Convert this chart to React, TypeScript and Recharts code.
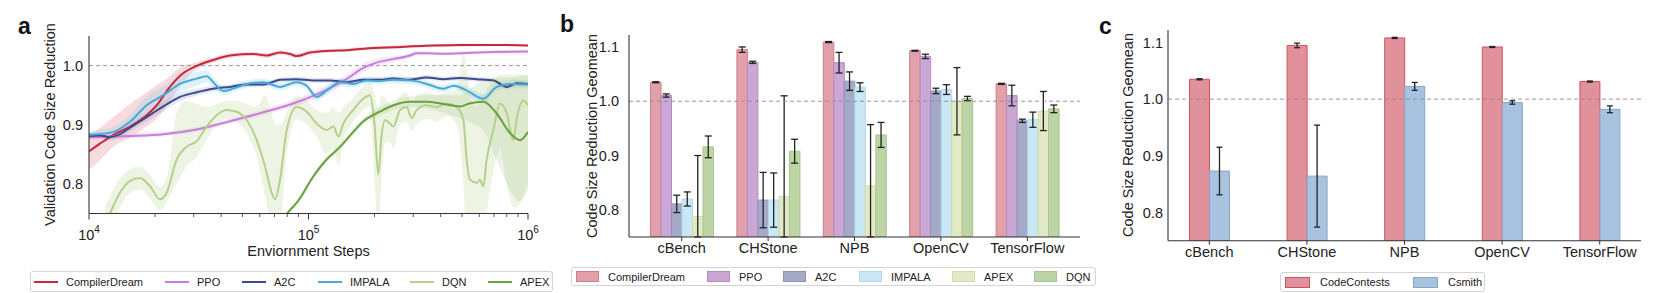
import React from 'react';
import {
  ComposedChart, BarChart, Bar, Line, Area, XAxis, YAxis, ReferenceLine, ErrorBar, Legend, Label,
} from 'recharts';

const FONT = '"Liberation Sans", Arial, Helvetica, sans-serif';

// ---------------- Panel a data ----------------
const aTicks = [10000, 20000, 30000, 40000, 50000, 60000, 70000, 80000, 90000, 100000, 200000, 300000, 400000, 500000, 600000, 700000, 800000, 900000, 1000000];
const aYTicks = [0.8, 0.9, 1.0];

const cdSteps = [10000, 11220, 12910, 15380, 18310, 20350, 23370, 25980, 29870, 36800, 43900, 56000, 64500, 74200, 82400, 88300, 101600, 125300, 149000, 171700, 211000, 243500, 345400, 490000, 695000, 1000000];
const cdMean = [0.855, 0.868, 0.883, 0.897, 0.916, 0.933, 0.964, 0.983, 0.997, 1.0095, 1.017, 1.0195, 1.017, 1.022, 1.0195, 1.016, 1.022, 1.025, 1.026, 1.028, 1.030, 1.031, 1.0335, 1.0346, 1.035, 1.034];
const cdLow = [0.824, 0.84, 0.863, 0.878, 0.897, 0.91, 0.94, 0.965, 0.99, 1.005, 1.013, 1.016, 1.013, 1.018, 1.016, 1.012, 1.018, 1.022, 1.023, 1.025, 1.027, 1.028, 1.031, 1.032, 1.033, 1.032];
const cdHigh = [0.883, 0.895, 0.913, 0.935, 0.955, 0.967, 0.982, 0.997, 1.004, 1.014, 1.021, 1.023, 1.021, 1.026, 1.023, 1.02, 1.026, 1.028, 1.029, 1.031, 1.033, 1.034, 1.036, 1.037, 1.037, 1.036];

const ppoSteps = [10000, 15380, 21810, 30940, 43900, 62300, 88300, 125300, 150000, 177700, 204000, 243500, 290000, 311000, 345400, 411000, 490000, 695000, 1000000];
const ppoMean = [0.879, 0.881, 0.884, 0.892, 0.906, 0.921, 0.938, 0.962, 0.978, 0.996, 1.005, 1.011, 1.017, 1.021, 1.021, 1.020, 1.021, 1.023, 1.024];
const ppoLow = [0.875, 0.877, 0.88, 0.888, 0.902, 0.916, 0.932, 0.955, 0.971, 0.989, 0.999, 1.006, 1.013, 1.017, 1.018, 1.017, 1.018, 1.02, 1.021];
const ppoHigh = [0.883, 0.885, 0.888, 0.896, 0.91, 0.926, 0.944, 0.969, 0.985, 1.003, 1.011, 1.016, 1.021, 1.025, 1.024, 1.023, 1.024, 1.026, 1.027];

const a2cSteps = [10000, 11220, 12460, 13840, 15380, 18310, 21810, 25980, 30940, 36800, 43900, 52300, 62300, 74200, 88300, 105300, 125300, 149000, 177700, 211000, 243500, 290000, 345400, 411000, 490000, 584000, 695000, 800000, 888000, 1000000];
const a2cMean = [0.881, 0.882, 0.879, 0.884, 0.895, 0.913, 0.931, 0.947, 0.955, 0.961, 0.964, 0.968, 0.968, 0.976, 0.977, 0.975, 0.975, 0.972, 0.976, 0.976, 0.978, 0.976, 0.980, 0.977, 0.979, 0.977, 0.975, 0.964, 0.970, 0.969];
const a2cLow = [0.876, 0.877, 0.874, 0.878, 0.888, 0.905, 0.923, 0.94, 0.949, 0.956, 0.96, 0.964, 0.964, 0.972, 0.973, 0.971, 0.971, 0.968, 0.972, 0.972, 0.974, 0.972, 0.976, 0.973, 0.975, 0.973, 0.971, 0.959, 0.965, 0.964];
const a2cHigh = [0.886, 0.887, 0.884, 0.89, 0.902, 0.921, 0.939, 0.954, 0.961, 0.966, 0.968, 0.972, 0.972, 0.98, 0.981, 0.979, 0.979, 0.976, 0.98, 0.98, 0.982, 0.98, 0.984, 0.981, 0.983, 0.981, 0.979, 0.969, 0.975, 0.974];

const impSteps = [10000, 12910, 15380, 18310, 21810, 25980, 30940, 34370, 36800, 40900, 45400, 52300, 62300, 74200, 88300, 98100, 108900, 121000, 139500, 160000, 184000, 211000, 243500, 290000, 345400, 411000, 460000, 525000, 626000, 720000, 828000, 1000000];
const impMean = [0.883, 0.888, 0.905, 0.933, 0.95, 0.969, 0.978, 0.982, 0.972, 0.957, 0.961, 0.969, 0.972, 0.964, 0.972, 0.966, 0.947, 0.958, 0.972, 0.969, 0.975, 0.974, 0.976, 0.975, 0.969, 0.961, 0.966, 0.958, 0.944, 0.964, 0.969, 0.968];
const impLow = [0.877, 0.88, 0.893, 0.918, 0.935, 0.955, 0.966, 0.972, 0.963, 0.95, 0.955, 0.963, 0.966, 0.958, 0.966, 0.96, 0.94, 0.951, 0.966, 0.963, 0.969, 0.968, 0.97, 0.969, 0.963, 0.955, 0.96, 0.951, 0.936, 0.957, 0.962, 0.961];
const impHigh = [0.889, 0.896, 0.917, 0.948, 0.965, 0.983, 0.99, 0.992, 0.981, 0.964, 0.967, 0.975, 0.978, 0.97, 0.978, 0.972, 0.954, 0.965, 0.978, 0.975, 0.981, 0.98, 0.982, 0.981, 0.975, 0.967, 0.972, 0.965, 0.952, 0.971, 0.976, 0.975];

const dqnSteps = [11800, 12460, 13840, 15380, 17080, 18960, 21060, 22590, 25080, 27860, 30940, 34370, 38160, 42390, 47080, 52280, 58060, 63370, 67950, 70370, 74160, 79560, 88350, 98090, 108940, 121000, 129800, 136800, 144100, 160000, 177700, 190600, 200000, 208000, 215000, 223200, 235100, 243500, 261200, 280100, 295100, 311000, 345400, 383700, 426100, 473200, 507500, 525500, 544200, 583600, 604300, 625800, 648100, 695200, 745600, 799700, 857700, 888100, 952200, 1000000];
const dqnMean = [0.73, 0.75, 0.785, 0.805, 0.81, 0.796, 0.774, 0.785, 0.841, 0.863, 0.872, 0.897, 0.916, 0.925, 0.922, 0.908, 0.874, 0.83, 0.785, 0.774, 0.807, 0.891, 0.93, 0.922, 0.902, 0.891, 0.897, 0.88, 0.902, 0.925, 0.944, 0.95, 0.9, 0.816, 0.88, 0.908, 0.902, 0.897, 0.925, 0.93, 0.911, 0.925, 0.933, 0.93, 0.936, 0.93, 0.908, 0.841, 0.807, 0.802, 0.807, 0.796, 0.841, 0.891, 0.936, 0.92, 0.874, 0.91, 0.941, 0.933];
const dqnLow = [0.70, 0.72, 0.76, 0.785, 0.79, 0.775, 0.755, 0.77, 0.80, 0.83, 0.845, 0.875, 0.90, 0.91, 0.905, 0.885, 0.845, 0.78, 0.72, 0.70, 0.72, 0.85, 0.91, 0.90, 0.88, 0.85, 0.86, 0.83, 0.87, 0.905, 0.925, 0.93, 0.80, 0.72, 0.80, 0.87, 0.87, 0.86, 0.90, 0.905, 0.89, 0.90, 0.91, 0.905, 0.915, 0.90, 0.80, 0.70, 0.70, 0.70, 0.70, 0.70, 0.75, 0.82, 0.86, 0.80, 0.76, 0.76, 0.78, 0.80];
const dqnHigh = [0.76, 0.78, 0.81, 0.825, 0.83, 0.815, 0.795, 0.81, 0.92, 0.94, 0.935, 0.93, 0.935, 0.94, 0.94, 0.935, 0.93, 0.95, 0.92, 0.90, 0.90, 0.92, 0.95, 0.94, 0.925, 0.92, 0.93, 0.92, 0.93, 0.945, 0.965, 0.97, 0.95, 0.93, 0.95, 0.945, 0.935, 0.93, 0.95, 0.955, 0.935, 0.95, 0.955, 0.95, 0.955, 0.96, 1.02, 1.0, 0.95, 0.93, 0.95, 0.95, 0.96, 0.975, 0.985, 0.985, 0.985, 0.985, 0.985, 0.98];

const apexSteps = [75000, 80000, 90000, 105300, 120000, 139500, 160000, 178000, 211000, 243500, 290000, 345400, 411000, 490000, 540000, 626000, 720000, 828000, 920000, 1000000];
const apexMean = [0.735, 0.75, 0.772, 0.813, 0.84, 0.863, 0.888, 0.906, 0.922, 0.933, 0.939, 0.939, 0.935, 0.931, 0.936, 0.939, 0.919, 0.886, 0.874, 0.888];
const apexLow = [0.73, 0.745, 0.767, 0.808, 0.835, 0.858, 0.882, 0.9, 0.915, 0.925, 0.93, 0.928, 0.92, 0.912, 0.905, 0.89, 0.84, 0.79, 0.77, 0.79];
const apexHigh = [0.74, 0.755, 0.777, 0.818, 0.845, 0.868, 0.894, 0.912, 0.929, 0.941, 0.948, 0.95, 0.95, 0.95, 0.96, 0.975, 0.98, 0.98, 0.982, 0.985];

// ---------------- Panel b data ----------------
const benchmarks = ['cBench', 'CHStone', 'NPB', 'OpenCV', 'TensorFlow'];
const bYTicks = [0.8, 0.9, 1.0, 1.1];
const cdBar = [1.035, 1.095, 1.109, 1.093, 1.032];
const cdBarErr = [0.001, 0.005, 0.001, 0.0008, 0.001];
const ppoBar = [1.0105, 1.0716, 1.071, 1.0826, 1.0105];
const ppoBarErr = [0.003, 0.002, 0.019, 0.004, 0.019];
const a2cBar = [0.811, 0.818, 1.037, 1.019, 0.964];
const a2cBarErr = [0.016, 0.051, 0.017, 0.005, 0.003];
const impBar = [0.820, 0.818, 1.026, 1.0215, 0.966];
const impBarErr = [0.013, 0.05, 0.008, 0.009, 0.014];
const apexBar = [0.788, 0.825, 0.844, 1.000, 0.982];
const apexBarErr = [0.112, 0.185, 0.113, 0.062, 0.036];
const dqnBar = [0.916, 0.908, 0.938, 1.005, 0.986];
const dqnBarErr = [0.02, 0.022, 0.023, 0.004, 0.007];

// ---------------- Panel c data ----------------
const ccBar = [1.035, 1.0947, 1.108, 1.092, 1.031];
const ccBarErr = [0.001, 0.004, 0.001, 0.0008, 0.001];
const csBar = [0.873, 0.864, 1.0224, 0.994, 0.982];
const csBarErr = [0.042, 0.09, 0.007, 0.003, 0.006];

const Y_MIN = 0.75;

// ---------------- builders ----------------
const mk = (steps: number[], mean: number[], low: number[], high: number[]) =>
  steps.map((s, i) => ({ step: s, v: mean[i], band: [low[i], high[i]] }));

// error bar clipped at the bottom of the axis, as in the reference
const clipErr = (mean: number, err: number) => [Math.min(err, mean - Y_MIN), err];

const lineSeries = [
  { name: 'CompilerDream', color: '#c8283c', band: '#d84a5c', op: 0.2, data: mk(cdSteps, cdMean, cdLow, cdHigh) },
  { name: 'PPO', color: '#c77fdc', band: '#c77fdc', op: 0.18, data: mk(ppoSteps, ppoMean, ppoLow, ppoHigh) },
  { name: 'A2C', color: '#3b4a8c', band: '#7a86c0', op: 0.2, data: mk(a2cSteps, a2cMean, a2cLow, a2cHigh) },
  { name: 'IMPALA', color: '#48a9d6', band: '#7fc6e6', op: 0.25, data: mk(impSteps, impMean, impLow, impHigh) },
  { name: 'DQN', color: '#b5d08b', band: '#c6dca4', op: 0.3, data: mk(dqnSteps, dqnMean, dqnLow, dqnHigh) },
  { name: 'APEX', color: '#6aa03f', band: '#8fb870', op: 0.18, data: mk(apexSteps, apexMean, apexLow, apexHigh) },
];

const bData = benchmarks.map((b, i) => ({
  idx: i, name: b,
  cd: cdBar[i], cdE: clipErr(cdBar[i], cdBarErr[i]),
  ppo: ppoBar[i], ppoE: clipErr(ppoBar[i], ppoBarErr[i]),
  a2c: a2cBar[i], a2cE: clipErr(a2cBar[i], a2cBarErr[i]),
  imp: impBar[i], impE: clipErr(impBar[i], impBarErr[i]),
  apex: apexBar[i], apexE: clipErr(apexBar[i], apexBarErr[i]),
  dqn: dqnBar[i], dqnE: clipErr(dqnBar[i], dqnBarErr[i]),
}));
const barSeriesB = [
  { key: 'cd', err: 'cdE', name: 'CompilerDream', fill: '#e2a1aa', stroke: '#cf7e8a' },
  { key: 'ppo', err: 'ppoE', name: 'PPO', fill: '#caa7d4', stroke: '#b48cc1' },
  { key: 'a2c', err: 'a2cE', name: 'A2C', fill: '#a5aac9', stroke: '#8e94b8' },
  { key: 'imp', err: 'impE', name: 'IMPALA', fill: '#c9e7f4', stroke: '#b3d9ea' },
  { key: 'apex', err: 'apexE', name: 'APEX', fill: '#e3e9c5', stroke: '#d4dcae' },
  { key: 'dqn', err: 'dqnE', name: 'DQN', fill: '#bdd5a5', stroke: '#a9c58f' },
];

const cData = benchmarks.map((b, i) => ({
  idx: i, name: b,
  cc: ccBar[i], ccE: clipErr(ccBar[i], ccBarErr[i]),
  cs: csBar[i], csE: clipErr(csBar[i], csBarErr[i]),
}));
const barSeriesC = [
  { key: 'cc', err: 'ccE', name: 'CodeContests', fill: '#e1919b', stroke: '#d2515f' },
  { key: 'cs', err: 'csE', name: 'Csmith', fill: '#a8c3df', stroke: '#8ba6c4' },
];

// legend layouts (styling only)
const legAItemLeft = [3, 134, 211, 287, 379, 457];
const legBItemLeft = [4, 135, 211, 287, 380, 462];
const legCItemLeft = [4, 132];

const txt = { fontFamily: FONT, fill: '#222' };

const LogTick = (props: any) => {
  const { x, y, payload } = props;
  const v = payload.value as number;
  const exp = Math.round(Math.log10(v));
  const major = Math.abs(Math.pow(10, exp) - v) < 1e-6 * v;
  return (
    <g>
      <line x1={x} x2={x} y1={y} y2={y + (major ? 6 : 3.5)} stroke="#333" strokeWidth={major ? 1 : 0.8} />
      {major && (
        <text x={x} y={y + 26} textAnchor="middle" fontSize={14.5} {...txt}>
          10<tspan dy={-7} fontSize={10}>{exp}</tspan>
        </text>
      )}
    </g>
  );
};

const legendBox = (w: number, h: number, children: React.ReactNode) => (
  <div style={{
    position: 'relative', width: w, height: h, boxSizing: 'border-box', border: '1px solid #d4d4d4',
    borderRadius: 3, background: '#fff', fontFamily: FONT, fontSize: 11, color: '#222',
  }}>{children}</div>
);

const LegendA = () => legendBox(523, 21, lineSeries.map((s, i) => (
  <div key={s.name} style={{ position: 'absolute', left: legAItemLeft[i], top: 0, height: 19, display: 'flex', alignItems: 'center', whiteSpace: 'nowrap' }}>
    <div style={{ width: 24, height: 2, background: s.color, marginRight: 8 }} />
    <span>{s.name}</span>
  </div>
)));

const LegendBars = (series: any[], lefts: number[], w: number, h: number, sw: number, gap: number) => legendBox(w, h, series.map((s, i) => (
  <div key={s.name} style={{ position: 'absolute', left: lefts[i], top: 0, height: h - 2, display: 'flex', alignItems: 'center', whiteSpace: 'nowrap' }}>
    <div style={{ width: sw, height: 9, background: s.fill, border: `1px solid ${s.stroke}`, marginRight: gap }} />
    <span>{s.name}</span>
  </div>
)));

const Letter = ({ ch, left, top }: { ch: string; left: number; top: number }) => (
  <div style={{ position: 'absolute', left, top, fontFamily: FONT, fontWeight: 'bold', fontSize: 23, lineHeight: '23px', color: '#111' }}>{ch}</div>
);

const axisLine = { stroke: '#333', strokeWidth: 1.1 };

export default function App() {
  return (
    <div style={{ position: 'absolute', left: 0, top: 0, width: 1661, height: 293, background: '#fff', overflow: 'hidden' }}>
      {/* Panel a: plot x 89..528, y 36..213.5 */}
      <div style={{ position: 'absolute', left: 0, top: 0 }}>
        <ComposedChart width={560} height={293} margin={{ top: 36, right: 32, bottom: 49.5, left: 29 }}>
          <XAxis dataKey="step" type="number" scale="log" domain={[10000, 1000000]} ticks={aTicks} allowDataOverflow
            height={30} tickSize={0} tickMargin={0} interval={0} tickLine={false} axisLine={axisLine} tick={<LogTick />}>
            <Label content={() => <text x={308.5} y={251} textAnchor="middle" dominantBaseline="central" fontSize={14.5} {...txt}>Enviornment Steps</text>} />
          </XAxis>
          <YAxis type="number" domain={[0.75, 1.05]} ticks={aYTicks} allowDataOverflow width={60} tickLine={false} tickSize={0} tickMargin={6}
            axisLine={axisLine} tickFormatter={(v: number) => v.toFixed(1)} tick={{ fontSize: 14.5, ...txt }}>
            <Label content={() => <text transform="translate(50,124.5) rotate(-90)" textAnchor="middle" dominantBaseline="central" fontSize={14.5} {...txt}>Validation Code Size Reduction</text>} />
          </YAxis>
          <ReferenceLine y={1} stroke="#999" strokeDasharray="4 3" strokeWidth={1} />
          {lineSeries.map((s) => (
            <Area key={s.name + '-band'} data={s.data} dataKey="band" type="monotone" stroke="none" fill={s.band} fillOpacity={s.op}
              isAnimationActive={false} legendType="none" dot={false} activeDot={false} />
          ))}
          {lineSeries.map((s) => (
            <Line key={s.name} data={s.data} dataKey="v" name={s.name} type="monotone" stroke={s.color} strokeWidth={2}
              dot={false} activeDot={false} isAnimationActive={false} />
          ))}
          <Legend layout="horizontal" verticalAlign="middle" align="center"
            wrapperStyle={{ position: 'absolute', left: 30, top: 271, width: 523, height: 21 }} content={() => <LegendA />} />
        </ComposedChart>
      </div>

      {/* Panel b: plot x 629..1080, y 35..237 */}
      <div style={{ position: 'absolute', left: 540, top: 0 }}>
        <BarChart width={560} height={293} data={bData} margin={{ top: 35, right: 20, bottom: 26, left: 29 }} barGap={0} barSize={10.5}>
          <XAxis dataKey="idx" type="number" domain={[-0.61, 4.61]} ticks={[0, 1, 2, 3, 4]} allowDataOverflow height={30}
            tickSize={4} tickMargin={2} interval={0} tickFormatter={(i: number) => benchmarks[i]}
            axisLine={axisLine} tickLine={{ stroke: '#333' }} tick={{ fontSize: 14.5, ...txt }} />
          <YAxis type="number" domain={[0.75, 1.122]} ticks={bYTicks} allowDataOverflow width={60} tickLine={false} tickSize={0} tickMargin={10}
            axisLine={axisLine} tickFormatter={(v: number) => v.toFixed(1)} tick={{ fontSize: 14.5, ...txt }}>
            <Label content={() => <text transform="translate(52,136) rotate(-90)" textAnchor="middle" dominantBaseline="central" fontSize={14.5} {...txt}>Code Size Reduction Geomean</text>} />
          </YAxis>
          {barSeriesB.map((s) => (
            <Bar key={s.key} dataKey={s.key} name={s.name} fill={s.fill} stroke={s.stroke} strokeWidth={1} isAnimationActive={false}>
              <ErrorBar dataKey={s.err} width={3.5} stroke="#222" strokeWidth={1.3} direction="y" />
            </Bar>
          ))}
          <ReferenceLine y={1} stroke="#888" strokeDasharray="4 3" strokeWidth={1} strokeOpacity={0.85} />
          <Legend layout="horizontal" verticalAlign="middle" align="center"
            wrapperStyle={{ position: 'absolute', left: 31, top: 267, width: 525, height: 19 }}
            content={() => LegendBars(barSeriesB, legBItemLeft, 525, 19, 21, 9)} />
        </BarChart>
      </div>

      {/* Panel c: plot x 1168..1641, y 30..240.7 */}
      <div style={{ position: 'absolute', left: 1095, top: 0 }}>
        <BarChart width={566} height={293} data={cData} margin={{ top: 30, right: 20, bottom: 22.3, left: 13 }} barGap={0} barSize={20}>
          <XAxis dataKey="idx" type="number" domain={[-0.423, 4.423]} ticks={[0, 1, 2, 3, 4]} allowDataOverflow height={30}
            tickSize={4} tickMargin={2} interval={0} tickFormatter={(i: number) => benchmarks[i]}
            axisLine={axisLine} tickLine={{ stroke: '#333' }} tick={{ fontSize: 14.5, ...txt }} />
          <YAxis type="number" domain={[0.75, 1.122]} ticks={bYTicks} allowDataOverflow width={60} tickLine={false} tickSize={0} tickMargin={5}
            axisLine={axisLine} tickFormatter={(v: number) => v.toFixed(1)} tick={{ fontSize: 14.5, ...txt }}>
            <Label content={() => <text transform="translate(33,135) rotate(-90)" textAnchor="middle" dominantBaseline="central" fontSize={14.5} {...txt}>Code Size Reduction Geomean</text>} />
          </YAxis>
          {barSeriesC.map((s) => (
            <Bar key={s.key} dataKey={s.key} name={s.name} fill={s.fill} stroke={s.stroke} strokeWidth={1} isAnimationActive={false}>
              <ErrorBar dataKey={s.err} width={3} stroke="#222" strokeWidth={1.3} direction="y" />
            </Bar>
          ))}
          <ReferenceLine y={1} stroke="#888" strokeDasharray="4 3" strokeWidth={1} strokeOpacity={0.85} />
          <Legend layout="horizontal" verticalAlign="middle" align="center"
            wrapperStyle={{ position: 'absolute', left: 185, top: 272, width: 205, height: 20 }}
            content={() => LegendBars(barSeriesC, legCItemLeft, 205, 20, 23, 10)} />
        </BarChart>
      </div>

      <Letter ch="a" left={18} top={15} />
      <Letter ch="b" left={560} top={13} />
      <Letter ch="c" left={1099} top={15} />
    </div>
  );
}
